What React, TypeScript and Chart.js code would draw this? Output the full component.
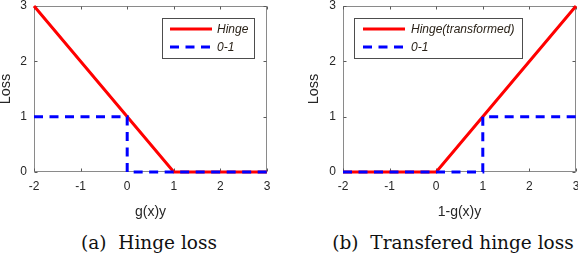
import React, { useEffect, useRef } from "react";
import { Chart, registerables } from "chart.js";

Chart.register(...registerables);

// ---- data ----
const xTickValues = [-2, -1, 0, 1, 2, 3];
const yTickValues = [0, 1, 2, 3];

const hingeX = [-2, 1, 3];
const hingeY = [3, 0, 0];
const zeroOneX = [-2, 0, 0, 3];
const zeroOneY = [1, 1, 0, 0];

const tHingeX = [-2, 0, 3];
const tHingeY = [0, 0, 3];
const tZeroOneX = [-2, 1, 1, 3];
const tZeroOneY = [0, 0, 1, 1];

const legendA = ["Hinge", "0-1"];
const legendB = ["Hinge(transformed)", "0-1"];
const xTitleA = "g(x)y";
const xTitleB = "1-g(x)y";
const yTitle = "Loss";
const captionA = "(a)  Hinge loss";
const captionB = "(b)  Transfered hinge loss";

const RED = "#ff0000";
const BLUE = "#0000ff";
const TEXT = "#262626";
const SANS = "'Liberation Sans', Arial, Helvetica, sans-serif";
const DASH = [9, 6.5];

const toPts = (xs: number[], ys: number[]) => xs.map((x, i) => ({ x, y: ys[i] }));

const framePlugin = {
  id: "frameTicks",
  beforeDatasetsDraw(chart: any) {
    const { ctx, chartArea, scales } = chart;
    const l = Math.round(chartArea.left) + 0.5;
    const r = Math.round(chartArea.right) - 0.5;
    const t = Math.round(chartArea.top) + 0.5;
    const b = Math.round(chartArea.bottom) - 0.5;
    ctx.save();
    ctx.strokeStyle = "#8a8a8a";
    ctx.lineWidth = 1;
    ctx.strokeRect(l, t, r - l, b - t);
    ctx.strokeStyle = "#5a5a5a";
    const tl = 3;
    ctx.beginPath();
    for (const v of xTickValues) {
      const px = Math.round(scales.x.getPixelForValue(v)) + 0.5;
      ctx.moveTo(px, b);
      ctx.lineTo(px, b - tl);
      ctx.moveTo(px, t);
      ctx.lineTo(px, t + tl);
    }
    for (const v of yTickValues) {
      const py = Math.round(scales.y.getPixelForValue(v)) + 0.5;
      ctx.moveTo(l, py);
      ctx.lineTo(l + tl, py);
      ctx.moveTo(r, py);
      ctx.lineTo(r - tl, py);
    }
    ctx.stroke();
    ctx.restore();
  },
};

const legendPlugin = {
  id: "boxLegend",
  afterDatasetsDraw(chart: any, _args: any, opts: any) {
    if (!opts || !opts.items) return;
    const { ctx } = chart;
    const [bx, by, bw, bh] = opts.box;
    ctx.save();
    ctx.fillStyle = "#ffffff";
    ctx.fillRect(bx, by, bw, bh);
    ctx.strokeStyle = "#4d4d4d";
    ctx.lineWidth = 1;
    ctx.strokeRect(bx + 0.5, by + 0.5, bw, bh);
    opts.items.forEach((it: any, i: number) => {
      const y = opts.rows[i];
      ctx.beginPath();
      ctx.strokeStyle = it.color;
      ctx.lineWidth = 3;
      ctx.setLineDash(it.dash || []);
      ctx.moveTo(opts.line[0], y);
      ctx.lineTo(opts.line[1], y);
      ctx.stroke();
      ctx.setLineDash([]);
      ctx.fillStyle = "#2a2218";
      ctx.font = `italic 12px ${SANS}`;
      ctx.textBaseline = "middle";
      ctx.textAlign = "left";
      ctx.fillText(it.label, opts.textX, y + 0.5);
    });
    ctx.restore();
  },
};

type PlotProps = {
  width: number;
  height: number;
  left: number;
  yAxisWidth: number;
  padRight: number;
  yTitlePad: number;
  xTitle: string;
  red: { x: number; y: number }[];
  blue: { x: number; y: number }[];
  labels: string[];
  legend: { box: number[]; rows: number[]; line: number[]; textX: number };
};

function Plot(p: PlotProps) {
  const ref = useRef<HTMLCanvasElement | null>(null);
  useEffect(() => {
    if (!ref.current) return;
    const tickFont = { family: SANS, size: 12 };
    const chart = new Chart(ref.current, {
      type: "line",
      data: {
        datasets: [
          {
            label: p.labels[0],
            data: p.red,
            borderColor: RED,
            borderWidth: 3,
            pointRadius: 0,
            tension: 0,
            fill: false,
            order: 1,
            clip: 3,
          } as any,
          {
            label: p.labels[1],
            data: p.blue,
            borderColor: BLUE,
            borderWidth: 3,
            borderDash: DASH,
            pointRadius: 0,
            tension: 0,
            fill: false,
            order: 0,
            clip: 3,
          } as any,
        ],
      },
      options: {
        responsive: false,
        animation: false,
        devicePixelRatio: 1,
        events: [],
        layout: { padding: { top: 6, right: p.padRight, left: 0, bottom: 0 } },
        plugins: {
          legend: { display: false },
          tooltip: { enabled: false },
          boxLegend: {
            box: p.legend.box,
            rows: p.legend.rows,
            line: p.legend.line,
            textX: p.legend.textX,
            items: [
              { label: p.labels[0], color: RED },
              { label: p.labels[1], color: BLUE, dash: DASH },
            ],
          },
        } as any,
        scales: {
          x: {
            type: "linear",
            min: -2,
            max: 3,
            afterBuildTicks: (s: any) => {
              s.ticks = xTickValues.map((v) => ({ value: v }));
            },
            grid: { display: false, drawTicks: false },
            border: { display: false },
            ticks: { font: tickFont, color: TEXT, padding: 7, maxRotation: 0, autoSkip: false },
            title: {
              display: true,
              text: p.xTitle,
              color: TEXT,
              font: { family: SANS, size: 14, lineHeight: 1.2 },
              padding: { top: 0, bottom: 4.6 },
            },
            afterFit: (s: any) => {
              s.height = p.height - 172;
              s.paddingLeft = 0;
              s.paddingRight = 0;
            },
          } as any,
          y: {
            type: "linear",
            min: 0,
            max: 3,
            afterBuildTicks: (s: any) => {
              s.ticks = yTickValues.map((v) => ({ value: v }));
            },
            grid: { display: false, drawTicks: false },
            border: { display: false },
            ticks: { font: tickFont, color: TEXT, padding: 7, autoSkip: false },
            title: {
              display: true,
              text: yTitle,
              color: TEXT,
              font: { family: SANS, size: 14.5, lineHeight: 0.84 },
              padding: { top: p.yTitlePad, bottom: 0 },
            },
            afterFit: (s: any) => {
              s.width = p.yAxisWidth;
              s.paddingTop = 0;
              s.paddingBottom = 0;
            },
          } as any,
        },
      },
      plugins: [framePlugin, legendPlugin],
    });
    return () => chart.destroy();
  }, []);
  return (
    <canvas
      ref={ref}
      width={p.width}
      height={p.height}
      style={{ position: "absolute", left: p.left, top: 0, width: p.width, height: p.height, display: "block" }}
    />
  );
}

const captionStyle: React.CSSProperties = {
  position: "absolute",
  top: 233,
  fontFamily: "'DejaVu Serif', 'Liberation Serif', serif",
  fontSize: 18.5,
  lineHeight: "19px",
  whiteSpace: "pre",
  color: "#111",
  transform: "translateX(-50%)",
};

export default function App() {
  return (
    <div
      style={{
        position: "fixed",
        left: 0,
        top: 0,
        width: 578,
        height: 256,
        background: "#ffffff",
        overflow: "hidden",
      }}
    >
      <Plot
        width={290}
        height={225}
        left={0}
        yAxisWidth={34}
        padRight={23}
        yTitlePad={0}
        xTitle={xTitleA}
        red={toPts(hingeX, hingeY)}
        blue={toPts(zeroOneX, zeroOneY)}
        labels={legendA}
        legend={{ box: [162, 18, 92, 40], rows: [29, 47], line: [170, 212], textX: 217 }}
      />
      <Plot
        width={288}
        height={225}
        left={290}
        yAxisWidth={53}
        padRight={2}
        yTitlePad={18}
        xTitle={xTitleB}
        red={toPts(tHingeX, tHingeY)}
        blue={toPts(tZeroOneX, tZeroOneY)}
        labels={legendB}
        legend={{ box: [64, 18, 168, 40], rows: [29, 47], line: [73, 115], textX: 121 }}
      />
      <div style={{ ...captionStyle, left: 149 }}>{captionA}</div>
      <div style={{ ...captionStyle, left: 453 }}>{captionB}</div>
    </div>
  );
}
